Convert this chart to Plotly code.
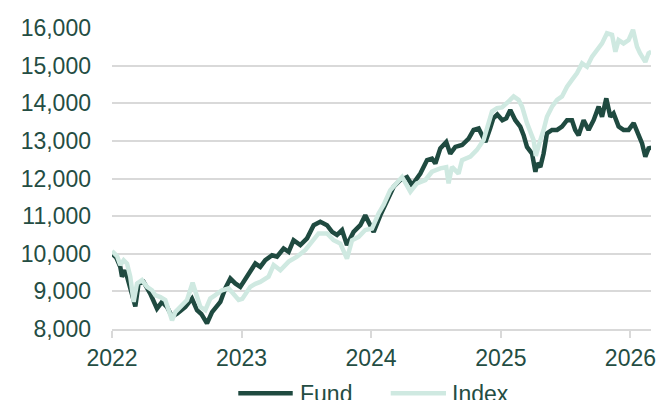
import pandas as pd
import plotly.graph_objects as go

# time positions, in years after 2022-01-01
fund_t = [0.000, 0.033, 0.064, 0.077, 0.103, 0.141, 0.180, 0.205, 0.244, 0.295,
          0.347, 0.386, 0.424, 0.463, 0.502, 0.566, 0.617, 0.656, 0.689, 0.733,
          0.772, 0.836, 0.874, 0.913, 0.951, 0.990, 1.042, 1.106, 1.144, 1.183,
          1.235, 1.273, 1.324, 1.363, 1.401, 1.453, 1.505, 1.556, 1.607, 1.659,
          1.698, 1.736, 1.775, 1.813, 1.864, 1.916, 1.954, 1.980, 2.019, 2.070,
          2.109, 2.173, 2.225, 2.276, 2.315, 2.379, 2.431, 2.469, 2.495, 2.533,
          2.579, 2.610, 2.649, 2.701, 2.752, 2.790, 2.829, 2.881, 2.919, 2.942,
          2.973, 3.012, 3.042, 3.073, 3.112, 3.150, 3.176, 3.202, 3.241, 3.267,
          3.279, 3.305, 3.330, 3.356, 3.395, 3.434, 3.472, 3.511, 3.549, 3.574,
          3.600, 3.639, 3.677, 3.716, 3.755, 3.781, 3.814, 3.845, 3.870, 3.909,
          3.947, 3.986, 4.025, 4.063, 4.090, 4.115, 4.140, 4.161]
fund_v = [10000, 9900, 9650, 9390, 9560, 9030, 8600, 9210, 9250, 8940,
          8540, 8720, 8590, 8330, 8410, 8590, 8810, 8500, 8400, 8150,
          8450, 8720, 9080, 9340, 9210, 9120, 9400, 9740, 9650, 9830,
          9960, 9920, 10140, 10050, 10360, 10230, 10410, 10760, 10850, 10760,
          10580, 10500, 10630, 10230, 10580, 10760, 11020, 10850, 10580, 11020,
          11290, 11780, 11960, 12040, 11820, 12130, 12490, 12530, 12400, 12800,
          12970, 12660, 12840, 12890, 13060, 13290, 13330, 12970, 13350, 13600,
          13700, 13550, 13600, 13820, 13550, 13380, 13150, 12840, 12660, 12180,
          12400, 12310, 12660, 13200, 13290, 13290, 13380, 13550, 13550, 13290,
          13150, 13550, 13290, 13550, 13910, 13640, 14130, 13640, 13730, 13380,
          13290, 13290, 13470, 13110, 12930, 12580, 12800, 12820]

index_t = [0.000, 0.039, 0.064, 0.090, 0.116, 0.141, 0.167, 0.193, 0.231, 0.270,
           0.309, 0.334, 0.373, 0.411, 0.450, 0.463, 0.488, 0.540, 0.579, 0.622,
           0.656, 0.681, 0.720, 0.758, 0.797, 0.849, 0.900, 0.938, 0.977, 1.005,
           1.067, 1.106, 1.144, 1.208, 1.247, 1.299, 1.363, 1.427, 1.492, 1.543,
           1.594, 1.659, 1.710, 1.762, 1.813, 1.852, 1.903, 1.954, 2.006, 2.057,
           2.096, 2.147, 2.238, 2.302, 2.353, 2.418, 2.469, 2.533, 2.579, 2.597,
           2.623, 2.674, 2.701, 2.765, 2.816, 2.867, 2.906, 2.932, 2.971, 3.009,
           3.060, 3.099, 3.137, 3.164, 3.202, 3.228, 3.253, 3.270, 3.290, 3.305,
           3.330, 3.356, 3.395, 3.434, 3.472, 3.511, 3.549, 3.588, 3.627, 3.665,
           3.704, 3.742, 3.781, 3.819, 3.858, 3.884, 3.909, 3.947, 3.986, 4.020,
           4.051, 4.074, 4.115, 4.140, 4.161]
index_v = [10070, 9940, 9700, 9830, 9740, 9390, 8720, 9210, 9300, 9120,
           9030, 8900, 8850, 8770, 8370, 8230, 8450, 8630, 8770, 9230,
           8850, 8590, 8500, 8810, 8900, 9030, 9080, 8940, 8770, 8800,
           9120, 9200, 9250, 9390, 9700, 9560, 9790, 9920, 10100, 10320,
           10540, 10540, 10360, 10270, 9870, 10360, 10450, 10630, 10670, 11070,
           11300, 11690, 12040, 11650, 11870, 11960, 12180, 12270, 12300, 11870,
           12310, 12130, 12490, 12580, 12760, 13020, 13470, 13780, 13870, 13890,
           14050, 14180, 14090, 13910, 13470, 13200, 13020, 12600, 12900, 13020,
           13290, 13640, 13910, 14090, 14180, 14440, 14620, 14800, 15060, 14970,
           15240, 15420, 15590, 15860, 15820, 15370, 15680, 15590, 15680, 15950,
           15500, 15330, 15100, 15330, 15370]

series_names = ["Fund", "Index"]
y_ticks = [8000, 9000, 10000, 11000, 12000, 13000, 14000, 15000, 16000]
x_ticks = ["2022-01-01", "2023-01-01", "2024-01-01", "2025-01-01", "2026-01-01"]
x_labels = ["2022", "2023", "2024", "2025", "2026"]

start = pd.Timestamp("2022-01-01")
def to_dates(ts):
    return [start + pd.Timedelta(days=t * 365.25) for t in ts]

DARK = "#1f4a40"
LIGHT = "#cfe9e1"
TEXT = "#244d43"
GRID = "#d9d9d9"
FONT = "Liberation Sans, Arial, sans-serif"

fig = go.Figure()
fig.add_trace(go.Scatter(x=to_dates(fund_t), y=fund_v, mode="lines", name=series_names[0],
                         line=dict(color=DARK, width=4.5), showlegend=False))
fig.add_trace(go.Scatter(x=to_dates(index_t), y=index_v, mode="lines", name=series_names[1],
                         line=dict(color=LIGHT, width=4.5), showlegend=False))

# custom legend (longer line keys, as in the reference)
leg_y = -0.2136
legend_items = [
    (series_names[0], DARK, 0.2343, 0.3353, 0.3456),
    (series_names[1], LIGHT, 0.5171, 0.6197, 0.6271),
]
for name, col, x0, x1, xt in legend_items:
    fig.add_shape(type="line", xref="paper", yref="paper", x0=x0, x1=x1, y0=leg_y, y1=leg_y,
                  line=dict(color=col, width=4.5))
    fig.add_annotation(xref="paper", yref="paper", x=xt, y=leg_y - 0.002, text=name,
                       showarrow=False, xanchor="left", yanchor="middle",
                       font=dict(family=FONT, size=23, color=TEXT))

fig.update_layout(
    width=657, height=400,
    margin=dict(l=112, r=6, t=28, b=71, autoexpand=False),
    paper_bgcolor="white", plot_bgcolor="white",
    font=dict(family=FONT, size=23, color=TEXT),
    showlegend=False,
    xaxis=dict(range=["2022-01-01", "2026-02-28"], tickvals=x_ticks, ticktext=x_labels,
               showgrid=False, showline=True, linecolor=GRID, linewidth=2,
               ticks="outside", ticklen=7, tickwidth=2, tickcolor=GRID,
               zeroline=False, tickfont=dict(size=23, color=TEXT)),
    yaxis=dict(range=[8000, 16000], tickvals=y_ticks,
               ticktext=[f"{v:,}" for v in y_ticks],
               showgrid=True, gridcolor=GRID, gridwidth=2, zeroline=False,
               showline=False, ticks="", ticklabelstandoff=20,
               tickfont=dict(size=23, color=TEXT)),
)

fig.write_html("out.html",
               config={"displayModeBar": False},
               post_script="document.body.style.margin='0';document.body.style.overflow='hidden';")
